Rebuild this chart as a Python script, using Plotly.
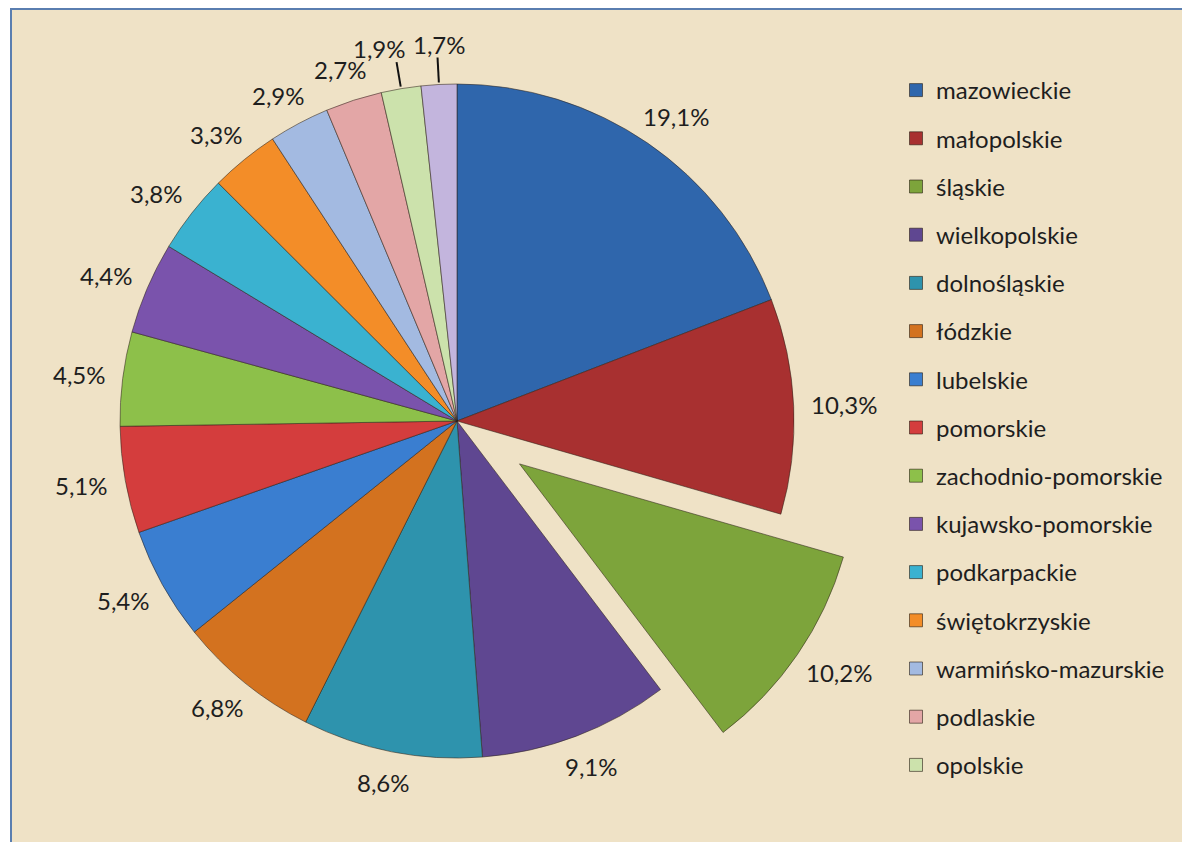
import math
import plotly.graph_objects as go

regions = ["mazowieckie", "małopolskie", "śląskie", "wielkopolskie", "dolnośląskie",
           "łódzkie", "lubelskie", "pomorskie", "zachodnio-pomorskie", "kujawsko-pomorskie",
           "podkarpackie", "świętokrzyskie", "warmińsko-mazurskie", "podlaskie", "opolskie",
           "lubuskie"]
shares = [19.1, 10.3, 10.2, 9.1, 8.6, 6.8, 5.4, 5.1, 4.5, 4.4, 3.8, 3.3, 2.9, 2.7, 1.9, 1.7]
colors = ["#2F66AC", "#A83030", "#7DA43B", "#5F4791", "#2E93AD", "#D3721F",
          "#3A7ED0", "#D43D3D", "#8DC04A", "#7A53AC", "#3AB2D0", "#F38D28",
          "#A3BAE1", "#E3A6A6", "#CCE2AC", "#C3B5DD"]
pulls = [0, 0, 0.225, 0, 0, 0, 0, 0, 0, 0, 0, 0, 0, 0, 0, 0]
legend_regions = regions[:15]

# page has an 8px body margin; figure sized so it ends at the window edge
W, H = 1182, 834
cx, cy = 449, 413            # pie centre in figure pixels
max_pull = max(pulls)
r_pie = 337
half = r_pie * (1 + max_pull)
FONT = "Lato"
FS = 24

fig = go.Figure()
fig.add_trace(go.Pie(
    labels=regions, values=shares, sort=False, direction="clockwise", rotation=0,
    pull=pulls, textinfo="none", showlegend=False, hoverinfo="label+percent",
    marker=dict(colors=colors, line=dict(color="rgba(45,35,25,0.55)", width=1)),
    domain=dict(x=[max(0, (cx - half) / W), min(1, (cx + half) / W)],
                y=[max(0, 1 - (cy + half) / H), min(1, 1 - (cy - half) / H)]),
))

# legend via dummy traces (reference shows the first 15 entries)
for i, name in enumerate(legend_regions):
    fig.add_trace(go.Scatter(
        x=[None], y=[None], mode="markers", name=name, legendgroup=f"g{i}",
        marker=dict(symbol="square", size=13, color=colors[i],
                    line=dict(color="rgba(40,30,20,0.6)", width=1)),
        hoverinfo="skip"))

total = sum(shares)
gap = 20                     # gap between pie edge and label box
char_w, half_h = 6.0, 12     # approx. label box metrics
small_dx = [-17, 2]
annotations = []
shapes = [dict(type="rect", xref="paper", yref="paper", x0=3 / W, x1=1.02,
               y0=-0.02, y1=1 - 1 / H, fillcolor="#EFE2C6",
               line=dict(color="#5A7EB0", width=2), layer="below")]
cum = 0
k_small = 0
for v, p in zip(shares, pulls):
    th = 2 * math.pi * (cum + v / 2) / total
    cum += v
    off = p * r_pie
    s, c = math.sin(th), math.cos(th)
    txt = f"{v:.1f}".replace(".", ",") + "%"
    if v < 2:
        x0 = cx + (r_pie + 2) * s
        y0 = cy - (r_pie + 2) * c
        x1 = cx + (r_pie + 27) * s
        y1 = cy - (r_pie + 27) * c
        shapes.append(dict(type="line", xref="paper", yref="paper",
                           x0=x0 / W, y0=1 - y0 / H, x1=x1 / W, y1=1 - y1 / H,
                           line=dict(color="#111111", width=2)))
        annotations.append(dict(x=x1 / W, y=1 - y1 / H, xref="paper", yref="paper",
                                xanchor="center", yanchor="bottom",
                                xshift=small_dx[k_small], yshift=-3,
                                text=txt, showarrow=False,
                                font=dict(size=FS, color="#1e1e1e", family=FONT)))
        k_small += 1
    else:
        rr = r_pie + gap + off
        hw = char_w * len(txt)
        px = cx + rr * s + hw * s
        py = cy - rr * c - half_h * c
        annotations.append(dict(x=px / W, y=1 - py / H, xref="paper", yref="paper",
                                xanchor="center", yanchor="middle",
                                text=txt, showarrow=False,
                                font=dict(size=FS, color="#1e1e1e", family=FONT)))

fig.update_layout(
    width=W, height=H, margin=dict(l=0, r=0, t=0, b=0),
    paper_bgcolor="white", plot_bgcolor="rgba(0,0,0,0)",
    xaxis=dict(visible=False), yaxis=dict(visible=False),
    showlegend=True,
    legend=dict(x=888 / W, y=1 - 60 / H, xanchor="left", yanchor="top",
                bgcolor="rgba(0,0,0,0)", tracegroupgap=14,
                font=dict(size=FS, color="#1e1e1e", family=FONT),
                itemwidth=30),
    annotations=annotations, shapes=shapes,
)

fig.write_html("out.html")
